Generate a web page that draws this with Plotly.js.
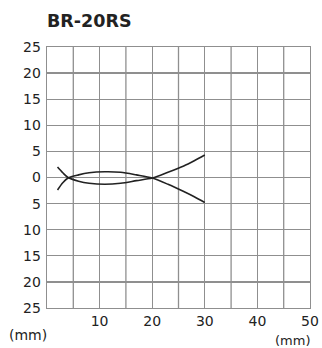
<!DOCTYPE html>
<html><head><meta charset="utf-8">
<script src="https://cdn.plot.ly/plotly-3.0.1.min.js"></script>
<style>html,body{margin:0;padding:0;background:#fff}#c{width:322px;height:348px}</style>
</head><body><div id="c"></div>
<script>
const chartTitle = "BR-20RS";
const unitLabel = "(mm)";
const curveAX = [2, 3, 4, 6, 8, 11, 14, 17, 20, 23, 26, 28, 30];
const curveAY = [2.0, 0.9, 0.0, -0.7, -1.1, -1.3, -1.1, -0.6, -0.1, 1.0, 2.2, 3.2, 4.3];
const curveBX = [2, 3, 4, 6, 8, 11, 14, 17, 20, 23, 26, 28, 30];
const curveBY = [-2.4, -1.0, -0.1, 0.5, 0.9, 1.1, 1.0, 0.5, -0.1, -1.3, -2.7, -3.7, -4.8];
const xTickVals = [10, 20, 30, 40, 50];
const xTickText = ["10", "20", "30", "40", "50"];
const yTickVals = [-25, -20, -15, -10, -5, 0, 5, 10, 15, 20, 25];
const yTickText = ["25", "20", "15", "10", "5", "0", "5", "10", "15", "20", "25"];

const gridCol = "#8f8f8f";
const lineStyle = {color: "#222", width: 1.6, shape: "spline", smoothing: 0.8};
const traces = [
  {x: curveAX, y: curveAY, mode: "lines", line: lineStyle, hoverinfo: "skip"},
  {x: curveBX, y: curveBY, mode: "lines", line: lineStyle, hoverinfo: "skip"}
];
const fnt = {family: "DejaVu Sans, Liberation Sans, sans-serif", size: 14, color: "#222"};
const vLines = [5, 15, 25, 35, 45].map(v => ({type: "line", xref: "x", yref: "paper", x0: v, x1: v, y0: 0, y1: 1,
  line: {color: gridCol, width: 1.3}, layer: "below"}));
const layout = {
  width: 322, height: 348,
  margin: {l: 47, r: 12, t: 47, b: 40},
  paper_bgcolor: "#fff", plot_bgcolor: "#fff",
  showlegend: false,
  font: fnt,
  title: {text: "<b>" + chartTitle + "</b>", x: 47/322, xanchor: "left", y: 1 - 21/348, yanchor: "middle",
          font: {family: "DejaVu Sans, sans-serif", size: 17.5, color: "#222"}},
  xaxis: {range: [0, 50], showgrid: true, gridcolor: gridCol, gridwidth: 1.3,
          tickmode: "array", tickvals: xTickVals, ticktext: xTickText, ticks: "", zeroline: false,
          showline: true, mirror: true, linecolor: gridCol, linewidth: 1.3, fixedrange: true,
          ticklabelstandoff: 0},
  yaxis: {range: [-25, 25], showgrid: true, gridcolor: gridCol, gridwidth: 1.3,
          tickmode: "array", tickvals: yTickVals, ticktext: yTickText, ticks: "", zeroline: false,
          showline: true, mirror: true, linecolor: gridCol, linewidth: 1.3, fixedrange: true,
          ticklabelstandoff: 2},
  shapes: vLines,
  annotations: [
    {text: unitLabel, xref: "paper", yref: "paper", x: -19/263, y: -27/261, xanchor: "center", yanchor: "middle",
     showarrow: false, font: fnt},
    {text: unitLabel, xref: "paper", yref: "paper", x: 245/263, y: -32/261, xanchor: "center", yanchor: "middle",
     showarrow: false, font: {family: fnt.family, size: 13, color: "#222"}}
  ]
};
Plotly.newPlot("c", traces, layout, {staticPlot: true, displayModeBar: false});
</script></body></html>
